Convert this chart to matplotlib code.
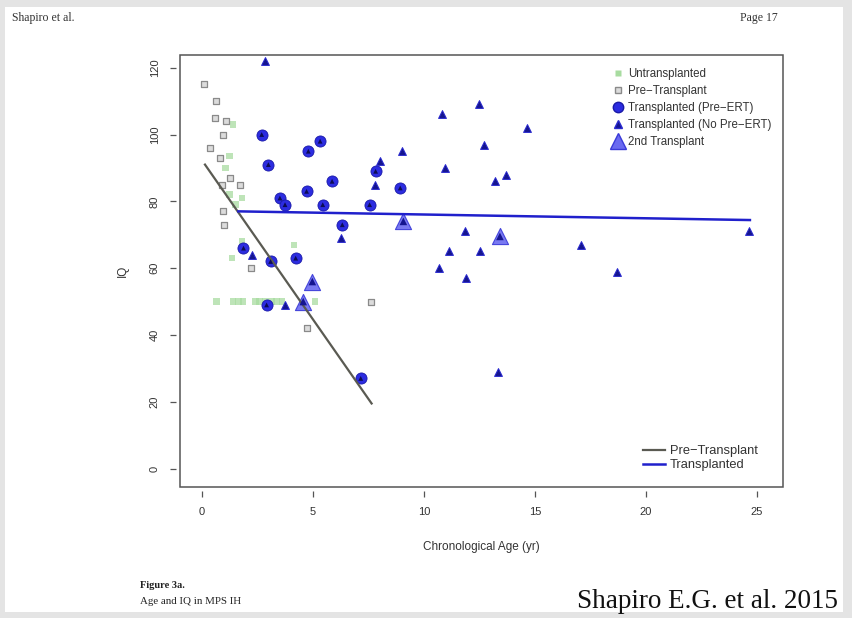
import matplotlib
matplotlib.use("Agg")
import matplotlib.pyplot as plt
from matplotlib.patches import Rectangle
from matplotlib.lines import Line2D

# ---------------- data ----------------
untrans_x = [1.4, 1.25, 1.05, 1.25, 1.8, 1.5, 1.8, 1.35, 4.15, 0.65, 1.4, 1.65, 1.85, 2.4, 2.6, 2.85, 3.15, 3.35, 3.6, 5.1]
untrans_y = [103, 93.5, 90, 82, 81, 79, 68, 63, 67, 50, 50, 50, 50, 50, 50, 50, 50, 50, 50, 50]

pre_x = [0.1, 0.65, 0.6, 1.1, 0.95, 0.35, 0.8, 1.25, 0.9, 1.7, 0.95, 1.0, 2.2, 4.75, 7.6]
pre_y = [115, 110, 105, 104, 100, 96, 93, 87, 85, 85, 77, 73, 60, 42, 50]

pre_ert_x = [2.69, 5.32, 4.79, 2.99, 7.82, 5.86, 8.93, 4.71, 3.51, 3.74, 5.44, 7.55, 6.32, 1.87, 3.09, 4.22, 7.15, 2.91]
pre_ert_y = [100, 98, 95, 91, 89, 86, 84, 83, 81, 79, 79, 79, 73, 66, 62, 63, 27, 49]

no_ert_x = [2.84, 10.82, 12.49, 14.63, 12.69, 9.0, 8.03, 10.93, 13.68, 13.2, 7.79, 6.26, 11.83, 12.54,
            11.11, 17.06, 10.69, 11.88, 18.7, 24.64, 13.32, 2.27, 3.75]
no_ert_y = [122, 106, 109, 102, 97, 95, 92, 90, 88, 86, 85, 69, 71, 65,
            65, 67, 60, 57, 59, 71, 29, 64, 49]

second_x = [9.07, 13.42, 4.97, 4.56]
second_y = [74, 69.5, 56, 50]

# fitted lines (end points)
pre_line_x = [0.135, 7.64]
pre_line_y = [91, 19.5]
trans_line_x = [1.64, 24.68]
trans_line_y = [77, 74.4]

xticks = [0, 5, 10, 15, 20, 25]
yticks = [0, 20, 40, 60, 80, 100, 120]

# ---------------- figure ----------------
W, H = 852, 618
fig = plt.figure(figsize=(W / 100, H / 100), dpi=100)
fig.patch.set_facecolor("#e4e4e4")
fig.add_artist(Rectangle((5 / W, 6 / H), 838 / W, 605 / H, transform=fig.transFigure,
                         facecolor="white", edgecolor="none", zorder=0))

serif = ["Liberation Serif", "DejaVu Serif"]
sans = ["Liberation Sans", "DejaVu Sans"]

fig.text(12 / W, 1 - 18 / H, "Shapiro et al.", family=serif, fontsize=8.5, color="#333333", va="center")
fig.text(778 / W, 1 - 18 / H, "Page 17", family=serif, fontsize=8.5, color="#333333", va="center", ha="right")
fig.text(140 / W, 1 - 585 / H, "Figure 3a.", family=serif, fontsize=7.5, weight="bold", color="#222222", va="center")
fig.text(140 / W, 1 - 601 / H, "Age and IQ in MPS IH", family=serif, fontsize=7.8, color="#222222", va="center")
fig.text(838 / W, 1 - 601 / H, "Shapiro E.G. et al. 2015", family=serif, fontsize=19.5, color="#111111",
         va="center", ha="right")

left, right, top, bottom = 180, 783, 55, 487
ax = fig.add_axes([left / W, 1 - bottom / H, (right - left) / W, (bottom - top) / H])
ax.set_xlim(-0.99, 26.17)
ax.set_ylim(-5.5, 123.8)

# frame
for s in ax.spines.values():
    s.set_color("none")
ax.spines["bottom"].set_position(("outward", 3))
ax.spines["left"].set_position(("outward", 3))
ax.add_patch(Rectangle((0, 0), 1, 1, transform=ax.transAxes, fill=False,
                       edgecolor="#555555", linewidth=1.1, zorder=5, clip_on=False))

ax.set_xticks(xticks)
ax.set_yticks(yticks)
ax.tick_params(axis="both", direction="out", length=4.5, width=0.9, color="#555555",
               labelsize=8, labelcolor="#333333")
ax.tick_params(axis="x", pad=7)
ax.tick_params(axis="y", pad=7)
for lab in ax.get_xticklabels() + ax.get_yticklabels():
    lab.set_family(sans)
for lab in ax.get_yticklabels():
    lab.set_rotation(90)
    lab.set_va("center")

ax.set_xlabel("Chronological Age (yr)", family=sans, fontsize=8.5, color="#333333", labelpad=17)
ax.set_ylabel("IQ", family=sans, fontsize=8.5, color="#333333", labelpad=15)

# points
ax.scatter(untrans_x, untrans_y, marker="s", s=22, color="#a8dca0", alpha=0.75, edgecolors="none", zorder=2)
ax.scatter(pre_x, pre_y, marker="s", s=20, facecolor="#dcdcdc", edgecolor="#8a8a8a", linewidths=0.9, zorder=2)
ax.scatter(pre_ert_x, pre_ert_y, marker="o", s=64, color="#2c2ce0", edgecolors="#1a1aa8", linewidths=0.6, zorder=3)
ax.scatter(pre_ert_x, pre_ert_y, marker="^", s=12, color="#0c0c55", edgecolors="none", zorder=4)
ax.scatter(no_ert_x, no_ert_y, marker="^", s=32, color="#151590", edgecolors="#2a2ad0", linewidths=0.7, zorder=3)
ax.scatter(second_x, second_y, marker="^", s=135, color="#6a6af0", edgecolors="#3a3ad8", linewidths=0.8,
           alpha=0.9, zorder=3)
ax.scatter(second_x, second_y, marker="^", s=30, color="#151590", edgecolors="none", zorder=4)

# fitted lines
ax.plot(pre_line_x, pre_line_y, color="#5a5a52", linewidth=1.6, zorder=3.5)
ax.plot(trans_line_x, trans_line_y, color="#2020cc", linewidth=1.8, zorder=3.5)

# top-right legend
leg_items = [
    ("Untransplanted", dict(marker="s", markersize=4.5, color="#a8dca0", markeredgecolor="none")),
    ("Pre\u2212Transplant", dict(marker="s", markersize=4.5, markerfacecolor="#dcdcdc", markeredgecolor="#8a8a8a")),
    ("Transplanted (Pre\u2212ERT)", dict(marker="o", markersize=7.5, color="#2c2ce0", markeredgecolor="#1a1aa8")),
    ("Transplanted (No Pre\u2212ERT)", dict(marker="^", markersize=5.5, color="#151590", markeredgecolor="#2a2ad0")),
    ("2nd Transplant", dict(marker="^", markersize=11, color="#6a6af0", markeredgecolor="#3a3ad8")),
]
handles = [Line2D([], [], linestyle="none", **kw) for _, kw in leg_items]
leg1 = ax.legend(handles, [t for t, _ in leg_items], loc="upper left", bbox_to_anchor=(0.709, 0.98),
                 frameon=False, prop={"family": sans, "size": 8.3}, handletextpad=0.25,
                 labelspacing=0.42, handlelength=1.1, borderaxespad=0, labelcolor="#333333")
ax.add_artist(leg1)

line_handles = [Line2D([], [], color="#5a5a52", linewidth=1.6),
                Line2D([], [], color="#2020cc", linewidth=1.8)]
ax.legend(line_handles, ["Pre\u2212Transplant", "Transplanted"], loc="lower left",
          bbox_to_anchor=(0.76, 0.024), frameon=False, prop={"family": sans, "size": 9.3},
          handlelength=1.7, handletextpad=0.35, labelspacing=0.18, borderaxespad=0, labelcolor="#333333")

fig.savefig("out.png", dpi=100, facecolor=fig.get_facecolor())
